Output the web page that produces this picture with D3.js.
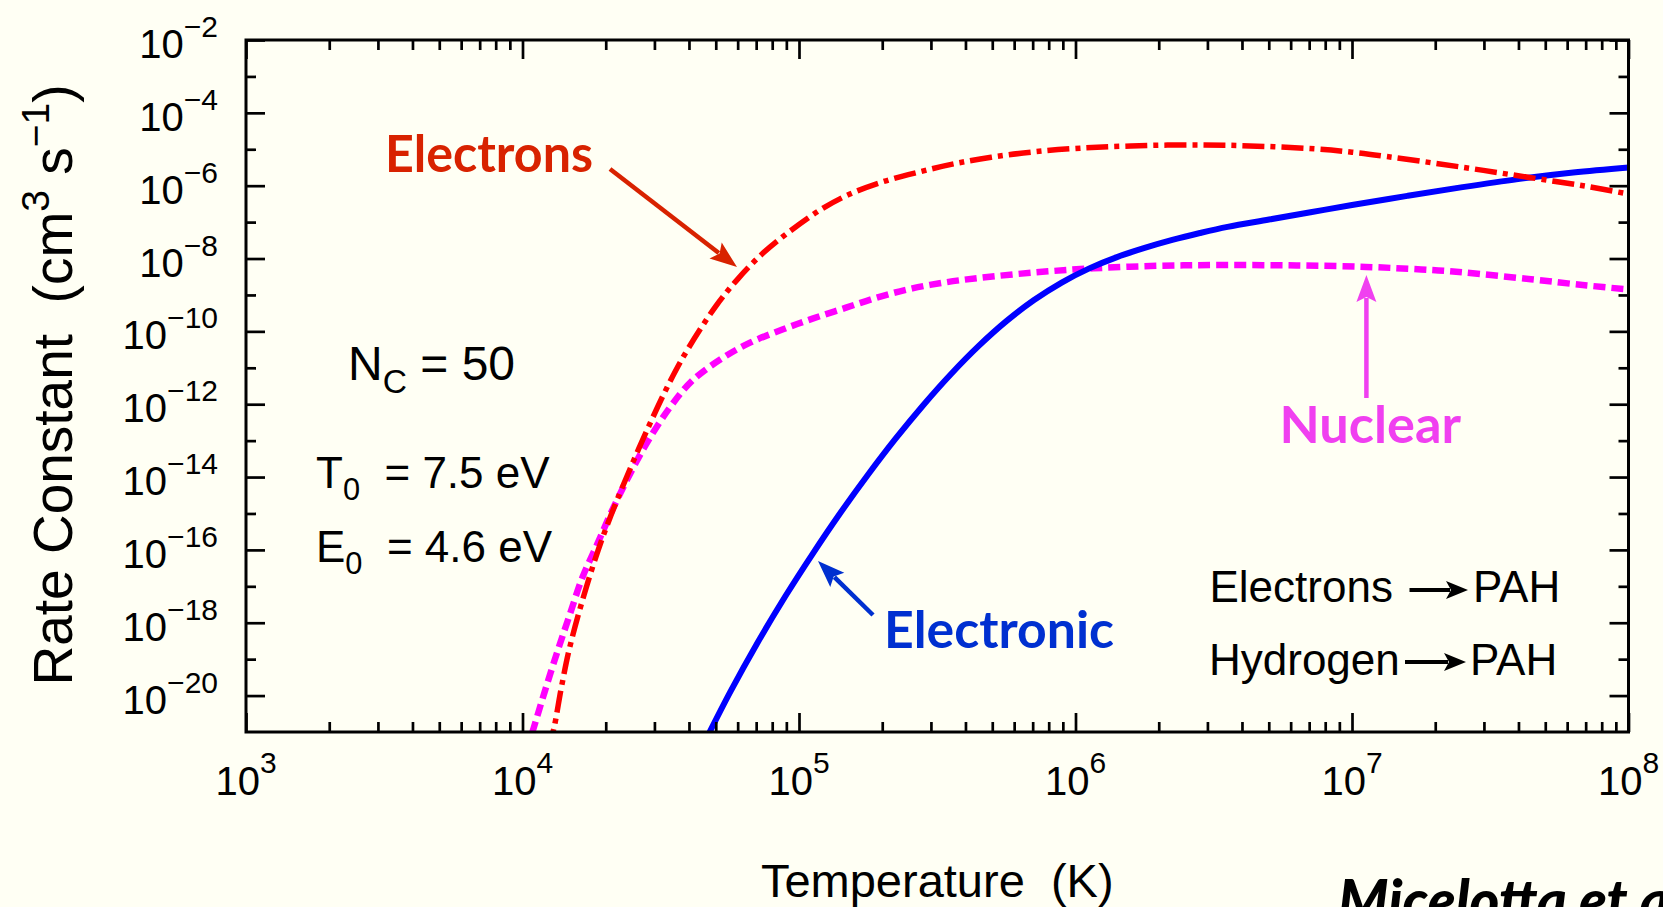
<!DOCTYPE html>
<html><head><meta charset="utf-8">
<script src="https://cdn.jsdelivr.net/npm/d3@7"></script>
<style>
html,body{margin:0;padding:0;background:#fffff4;}
svg{display:block;}
</style></head>
<body>
<svg id="chart" width="1663" height="907"></svg>
<script>
// ---- data (log10 values) ----
const xTickExponents = [3, 4, 5, 6, 7, 8];
const yTickExponents = [-2, -4, -6, -8, -10, -12, -14, -16, -18, -20];
const yMinorExponents = [-3, -5, -7, -9, -11, -13, -15, -17, -19];

const electronsLogT = [4.09,4.112,4.14,4.17,4.22,4.274,4.32,4.371,4.451,4.532,4.597,4.70,4.78,4.87,4.967,5.08,5.178,5.30,5.436,5.56,5.695,5.85,6.016,6.2,6.4,6.6,6.868,7.0,7.127,7.387,7.647,7.85,8.0];
const electronsLogK = [-21.5,-20.95,-19.8,-18.7,-17.3,-16.0,-15.05,-14.1,-12.7,-11.4,-10.5,-9.3,-8.55,-7.85,-7.25,-6.65,-6.25,-5.9,-5.62,-5.4,-5.22,-5.07,-4.97,-4.91,-4.88,-4.9,-4.99,-5.08,-5.2,-5.48,-5.78,-6.02,-6.23];

const electronicLogT = [4.66,4.677,4.75,4.85,4.95,5.05,5.15,5.25,5.35,5.45,5.55,5.65,5.75,5.85,5.95,6.05,6.15,6.25,6.35,6.45,6.55,6.7,6.85,7.0,7.2,7.4,7.6,7.8,8.0];
const electronicLogK = [-21.26,-21.0,-19.92,-18.55,-17.28,-16.1,-14.98,-13.93,-12.94,-12.02,-11.17,-10.4,-9.72,-9.14,-8.66,-8.27,-7.96,-7.71,-7.49,-7.3,-7.13,-6.93,-6.73,-6.53,-6.28,-6.04,-5.82,-5.64,-5.5];

const nuclearLogT = [4.015,4.04,4.08,4.128,4.17,4.217,4.27,4.322,4.385,4.45,4.53,4.613,4.72,4.823,4.94,5.049,5.17,5.291,5.41,5.533,5.655,5.856,6.064,6.3,6.522,6.8,7.05,7.25,7.387,7.647,7.85,8.0];
const nuclearLogK = [-21.5,-20.9,-19.9,-18.75,-17.8,-16.75,-15.85,-14.95,-13.97,-13.06,-12.12,-11.36,-10.75,-10.31,-9.95,-9.65,-9.35,-9.05,-8.82,-8.65,-8.53,-8.38,-8.27,-8.2,-8.18,-8.19,-8.23,-8.3,-8.37,-8.57,-8.74,-8.85];

// ---- layout ----
const svg = d3.select("#chart");
const L = 246, R = 1628.5, T = 40, B = 732;
const x = d3.scaleLog().domain([1e3, 1e8]).range([L, R]);
const y = d3.scaleLog().domain([1e-21, 1e-2]).range([B, T]);
const sans = "'Liberation Sans', Arial, Helvetica, sans-serif";
const hum = "Lato, 'Open Sans', sans-serif";

svg.append("rect").attr("width", 1663).attr("height", 907).attr("fill", "#fffff4");

svg.append("defs").append("clipPath").attr("id", "plotclip")
  .append("rect").attr("x", L).attr("y", T).attr("width", R - L).attr("height", B - T);

// ---- curves ----
function series(lt, lk) { return lt.map((v, i) => [Math.pow(10, v), Math.pow(10, lk[i])]); }
const line = d3.line().x(d => x(d[0])).y(d => y(d[1])).curve(d3.curveCatmullRom.alpha(0.5));
const g = svg.append("g").attr("clip-path", "url(#plotclip)");
g.append("path").attr("d", line(series(nuclearLogT, nuclearLogK)))
  .attr("fill", "none").attr("stroke", "#ff00ff").attr("stroke-width", 6.5)
  .attr("stroke-dasharray", "12,6");
g.append("path").attr("d", line(series(electronicLogT, electronicLogK)))
  .attr("fill", "none").attr("stroke", "#0000ff").attr("stroke-width", 6);
g.append("path").attr("d", line(series(electronsLogT, electronsLogK)))
  .attr("fill", "none").attr("stroke", "#ff0000").attr("stroke-width", 5.5)
  .attr("stroke-dasharray", "22,6,5,6");

// ---- axes ----
const minorX = [];
for (let e = 3; e < 8; e++) for (let m = 2; m <= 9; m++) minorX.push(m * Math.pow(10, e));
const majorX = xTickExponents.map(e => Math.pow(10, e));
const majorY = yTickExponents.map(e => Math.pow(10, e));
const minorY = yMinorExponents.map(e => Math.pow(10, e));

function styleAxis(sel) {
  sel.select(".domain").remove();
  sel.selectAll("line").attr("stroke", "#000").attr("stroke-width", 2.7);
  sel.selectAll("text").remove();
}
const axes = [
  [d3.axisBottom(x), `translate(0,${B})`, majorX, minorX],
  [d3.axisTop(x), `translate(0,${T})`, majorX, minorX],
  [d3.axisLeft(y), `translate(${L},0)`, majorY, minorY],
  [d3.axisRight(y), `translate(${R},0)`, majorY, minorY]
];
axes.forEach(([ax, tr, maj, min]) => {
  svg.append("g").attr("transform", tr)
    .call(ax.tickValues(maj).tickSizeInner(-19).tickSizeOuter(0).tickFormat(() => "")).call(styleAxis);
  svg.append("g").attr("transform", tr)
    .call(ax.tickValues(min).tickSizeInner(-10).tickSizeOuter(0).tickFormat(() => "")).call(styleAxis);
});
svg.append("rect").attr("x", L).attr("y", T).attr("width", R - L).attr("height", B - T)
  .attr("fill", "none").attr("stroke", "#000").attr("stroke-width", 3);

// tick labels
xTickExponents.forEach(e => {
  const t = svg.append("text").attr("x", x(Math.pow(10, e))).attr("y", 795)
    .attr("text-anchor", "middle").attr("font-family", sans).attr("fill", "#000");
  t.append("tspan").attr("font-size", 40).text("10");
  t.append("tspan").attr("font-size", 30).attr("dy", -22).text(String(e));
});
yTickExponents.forEach(e => {
  const t = svg.append("text").attr("x", 218).attr("y", y(Math.pow(10, e)) + 18)
    .attr("text-anchor", "end").attr("font-family", sans).attr("fill", "#000");
  t.append("tspan").attr("font-size", 40).text("10");
  t.append("tspan").attr("font-size", 30).attr("dy", -21).text("\u2212" + Math.abs(e));
});

// axis titles
svg.append("text").attr("x", (L + R) / 2).attr("y", 897).attr("text-anchor", "middle")
  .attr("font-family", sans).attr("font-size", 47).attr("fill", "#000")
  .text("Temperature\u00a0\u00a0(K)");
const yt = svg.append("text").attr("transform", `translate(72,${(T + B) / 2 - 1}) rotate(-90)`)
  .attr("text-anchor", "middle").attr("font-family", sans).attr("font-size", 55).attr("fill", "#000");
yt.append("tspan").text("Rate Constant\u00a0\u00a0(cm");
yt.append("tspan").attr("font-size", 39).attr("dy", -23).text("3");
yt.append("tspan").attr("dy", 23).text("\u00a0s");
yt.append("tspan").attr("font-size", 39).attr("dy", -23).text("\u22121");
yt.append("tspan").attr("dy", 23).text(")");

// parameter text
function subText(xp, yp, size, main, sub, rest, subDy) {
  const t = svg.append("text").attr("x", xp).attr("y", yp).attr("font-family", sans)
    .attr("font-size", size).attr("fill", "#000");
  t.append("tspan").text(main);
  t.append("tspan").attr("font-size", size * 0.7).attr("dy", subDy).text(sub);
  t.append("tspan").attr("dy", -subDy).text(rest);
}
subText(348, 380, 48, "N", "C", " = 50", 13);
subText(316, 488, 44, "T", "0", "\u00a0\u00a0= 7.5 eV", 12);
subText(316, 562, 44, "E", "0", "\u00a0\u00a0= 4.6 eV", 12);

// arrows
function arrow(x1, y1, x2, y2, color, w, hl, hw) {
  const dx = x2 - x1, dy = y2 - y1, len = Math.hypot(dx, dy);
  const ux = dx / len, uy = dy / len, nx = -uy, ny = ux;
  svg.append("line").attr("x1", x1).attr("y1", y1)
    .attr("x2", x2 - ux * (hl - 4)).attr("y2", y2 - uy * (hl - 4))
    .attr("stroke", color).attr("stroke-width", w);
  const p = [
    [x2, y2],
    [x2 - ux * hl + nx * hw, y2 - uy * hl + ny * hw],
    [x2 - ux * (hl - 5), y2 - uy * (hl - 5)],
    [x2 - ux * hl - nx * hw, y2 - uy * hl - ny * hw]
  ];
  svg.append("path").attr("d", "M" + p.map(q => q.join(",")).join("L") + "Z").attr("fill", color);
}

// reaction text
[["Electrons", 1209.5, 601.7, 1409.5, 1468, 590, 1473], ["Hydrogen", 1209, 675, 1405, 1466, 662, 1470]]
  .forEach(([lab, xs, yb, a1, a2, ay, xp]) => {
    svg.append("text").attr("x", xs).attr("y", yb).attr("font-family", sans).attr("font-size", 44)
      .attr("fill", "#000").text(lab);
    arrow(a1, ay, a2, ay, "#000", 4, 22, 9);
    svg.append("text").attr("x", xp).attr("y", yb).attr("font-family", sans).attr("font-size", 44)
      .attr("fill", "#000").text("PAH");
  });

// curve labels
function label(txt, xp, yp, w, color) {
  svg.append("text").attr("x", xp).attr("y", yp).attr("font-family", hum).attr("font-weight", 700)
    .attr("font-size", 52).attr("fill", color).attr("textLength", w)
    .attr("lengthAdjust", "spacingAndGlyphs").text(txt);
}
label("Electrons", 385, 172, 208, "#d82200");
arrow(610, 169, 737, 267, "#d82200", 4.5, 27, 10);
label("Nuclear", 1279.5, 443, 181.5, "#f040f0");
arrow(1366.4, 398, 1366.4, 275, "#f040f0", 4.5, 27, 10);
label("Electronic", 884, 648, 230, "#0030d0");
arrow(873, 615, 818, 561, "#0030d0", 4.5, 27, 10);

// credit (cut off at the edge as in the original)
svg.append("text").attr("x", 1338).attr("y", 921).attr("font-family", hum).attr("font-weight", 900)
  .attr("font-style", "italic").attr("font-size", 57).attr("fill", "#000").text("Micelotta et al.");
</script>
</body></html>
